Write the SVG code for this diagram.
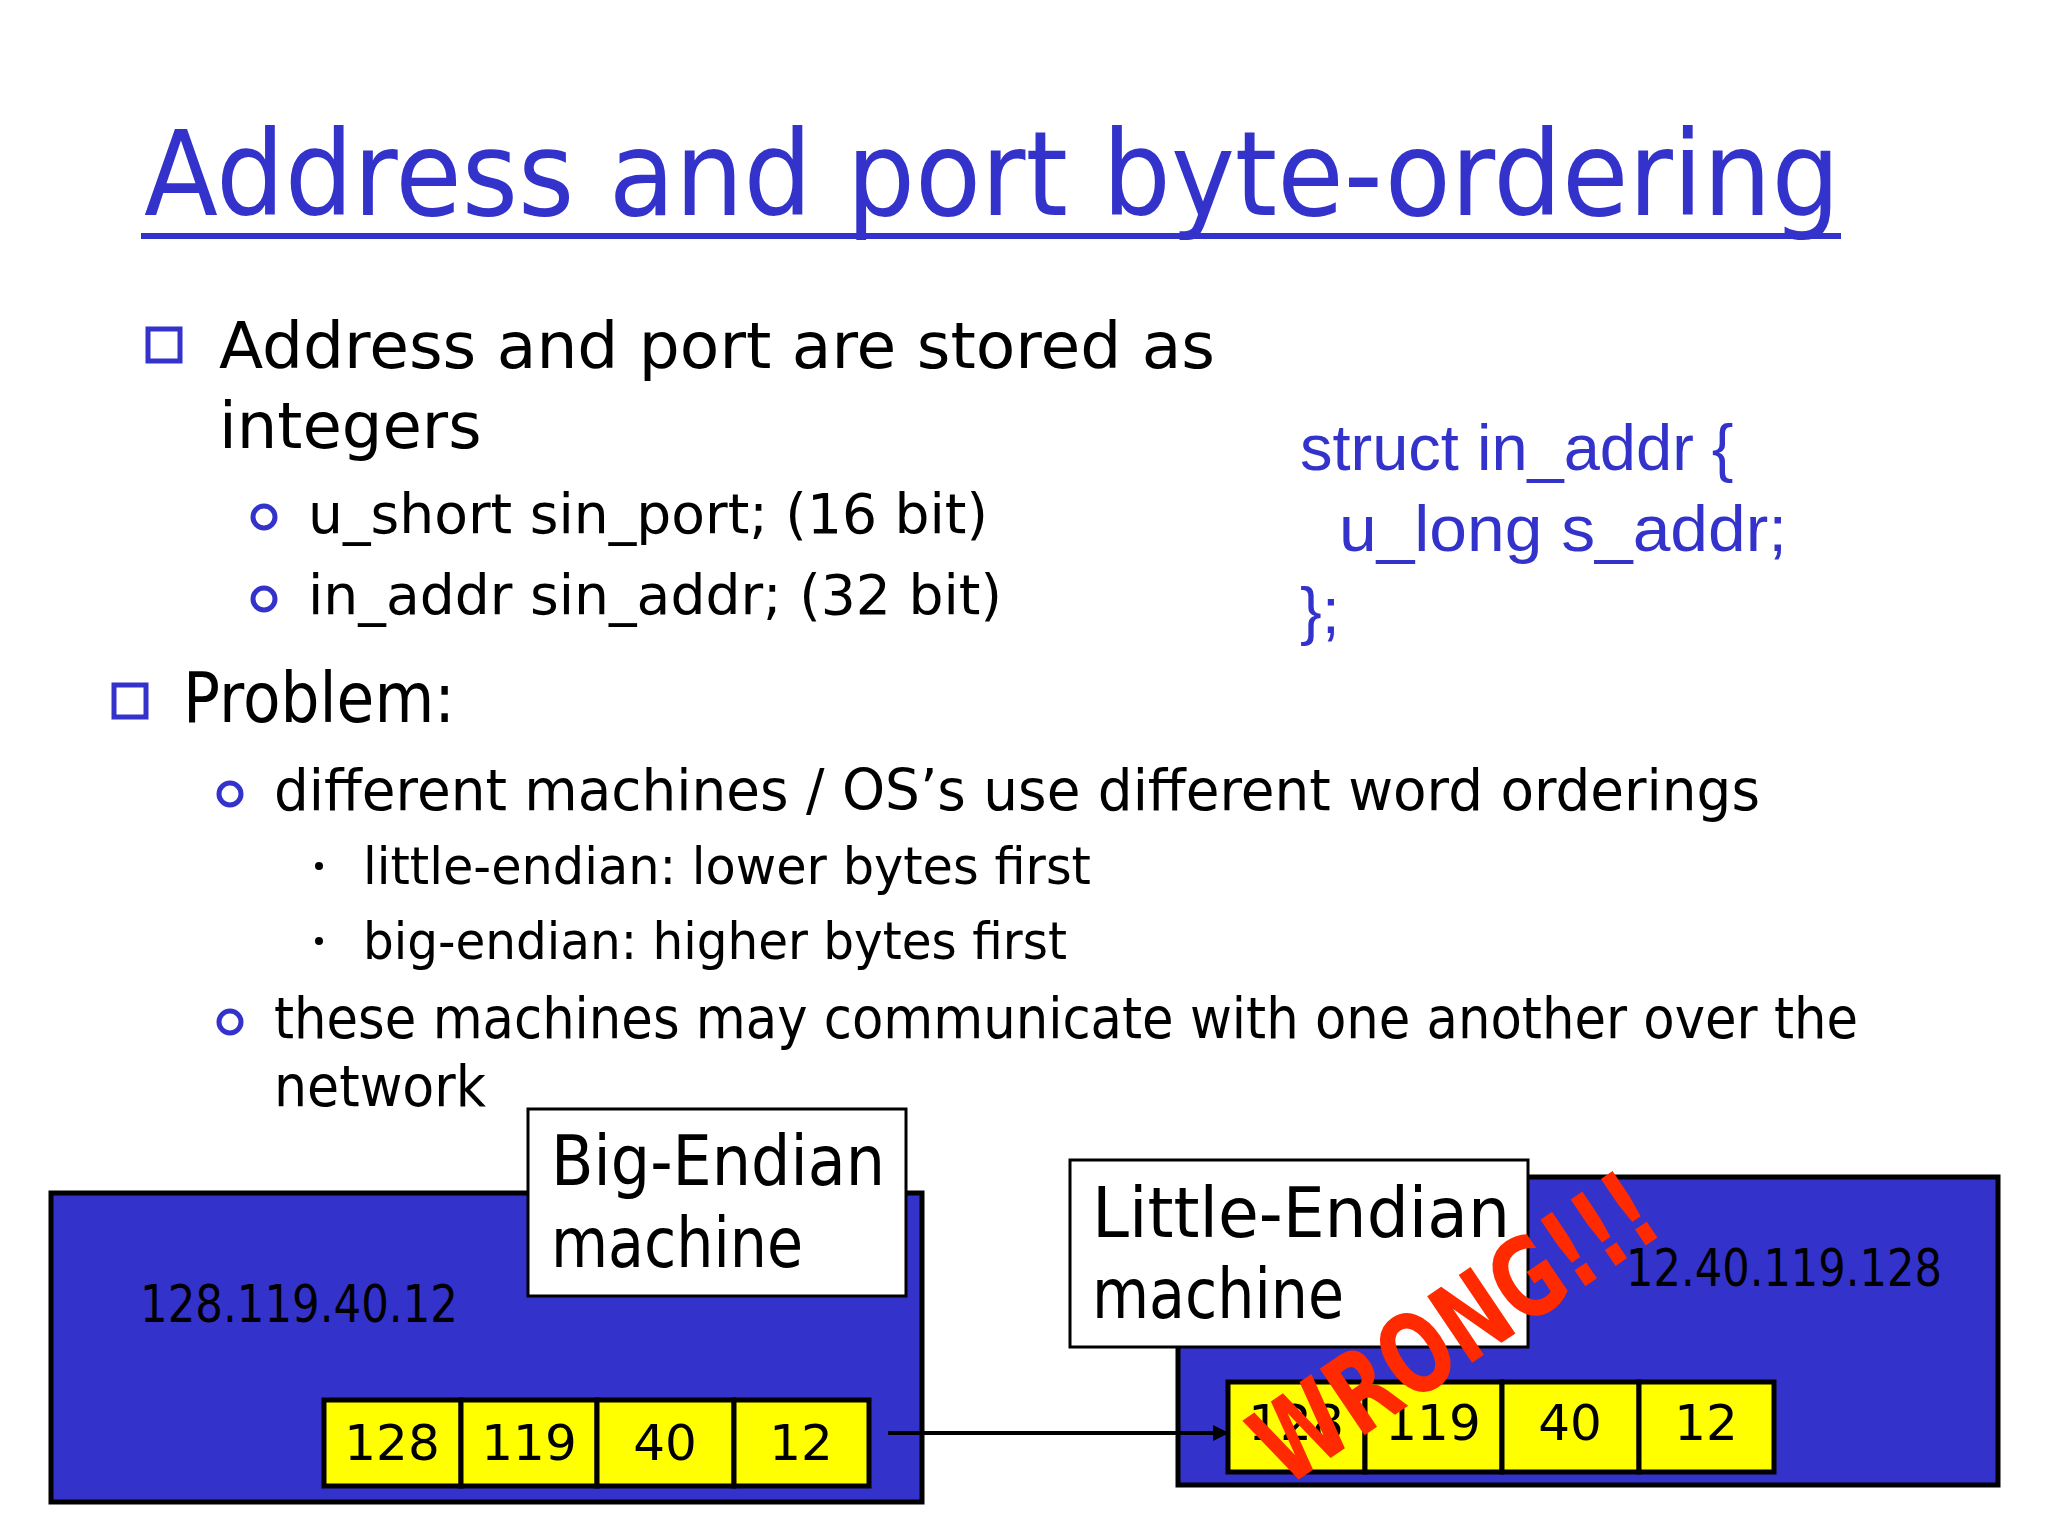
<svg xmlns="http://www.w3.org/2000/svg" width="2048" height="1536" viewBox="0 0 2048 1536">
<style>
.t{font-family:"DejaVu Sans","Liberation Sans",sans-serif;fill:#000}
.c{font-family:"Liberation Sans",Arial,sans-serif;fill:#3333cc;font-size:65px}
.cell{fill:#ffff00;stroke:#000;stroke-width:5}
.ct{font-family:"DejaVu Sans",sans-serif;font-size:50px;text-anchor:middle}
.blue{fill:#3333cc;stroke:#000;stroke-width:5}
.lbl{fill:#fff;stroke:#000;stroke-width:3}
</style>
<defs><marker id="ah" markerWidth="16" markerHeight="16" refX="15" refY="8" orient="auto" markerUnits="userSpaceOnUse" viewBox="0 0 16 16"><path d="M0,0L16,8L0,16z" fill="#000"/></marker></defs>
<rect width="2048" height="1536" fill="#fff"/>
<g id="title"><text x="144" y="215" class="t" font-size="118" fill="#3333cc" style="fill:#3333cc" textLength="1696" lengthAdjust="spacingAndGlyphs">Address and port byte-ordering</text>
<rect x="141" y="233" width="1700" height="6" fill="#3333cc"/></g>
<g id="bullets">
<rect x="148" y="329" width="32" height="32" fill="none" stroke="#3333cc" stroke-width="5"/>
<text x="219" y="368" class="t" font-size="64" textLength="996" lengthAdjust="spacingAndGlyphs">Address and port are stored as</text>
<text x="219" y="448" class="t" font-size="64">integers</text>
<circle cx="264" cy="517" r="11" fill="none" stroke="#3333cc" stroke-width="5"/>
<text x="308" y="533" class="t" font-size="55" textLength="680" lengthAdjust="spacingAndGlyphs">u_short sin_port; (16 bit)</text>
<circle cx="264" cy="599" r="11" fill="none" stroke="#3333cc" stroke-width="5"/>
<text x="308" y="614" class="t" font-size="55" textLength="694" lengthAdjust="spacingAndGlyphs">in_addr sin_addr; (32 bit)</text>
<rect x="114" y="685" width="32" height="32" fill="none" stroke="#3333cc" stroke-width="5"/>
<text x="183" y="722" class="t" font-size="70" textLength="272" lengthAdjust="spacingAndGlyphs">Problem:</text>
<circle cx="230" cy="794" r="11" fill="none" stroke="#3333cc" stroke-width="5"/>
<text x="274" y="810" class="t" font-size="57" textLength="1486" lengthAdjust="spacingAndGlyphs">different machines / OS’s use different word orderings</text>
<circle cx="319" cy="866" r="4" fill="#000"/>
<text x="363" y="884" class="t" font-size="52" textLength="728" lengthAdjust="spacingAndGlyphs">little-endian: lower bytes first</text>
<circle cx="319" cy="941" r="4" fill="#000"/>
<text x="363" y="959" class="t" font-size="52" textLength="704" lengthAdjust="spacingAndGlyphs">big-endian: higher bytes first</text>
<circle cx="230" cy="1022" r="11" fill="none" stroke="#3333cc" stroke-width="5"/>
<text x="274" y="1038" class="t" font-size="57" textLength="1584" lengthAdjust="spacingAndGlyphs">these machines may communicate with one another over the</text>
<text x="274" y="1106" class="t" font-size="57" textLength="212" lengthAdjust="spacingAndGlyphs">network</text>
</g>
<g id="struct">
<text x="1300" y="470" class="c">struct in_addr {</text>
<text x="1339" y="551" class="c" textLength="448" lengthAdjust="spacingAndGlyphs">u_long s_addr;</text>
<text x="1300" y="633" class="c">};</text>
</g>
<g id="left">
<rect x="51" y="1193" width="871" height="309" class="blue"/>
<text x="140" y="1322" class="t" font-size="52" textLength="318" lengthAdjust="spacingAndGlyphs">128.119.40.12</text>
<rect x="324" y="1400" width="137" height="86" class="cell"/><text x="392" y="1460" class="ct">128</text>
<rect x="461" y="1400" width="136" height="86" class="cell"/><text x="529" y="1460" class="ct">119</text>
<rect x="597" y="1400" width="137" height="86" class="cell"/><text x="665" y="1460" class="ct">40</text>
<rect x="734" y="1400" width="135" height="86" class="cell"/><text x="801" y="1460" class="ct">12</text>
</g>
<g id="bigLabel"><rect x="528" y="1109" width="378" height="187" class="lbl"/>
<text x="551" y="1185" class="t" font-size="70" textLength="334" lengthAdjust="spacingAndGlyphs">Big-Endian</text>
<text x="551" y="1267" class="t" font-size="70" textLength="252" lengthAdjust="spacingAndGlyphs">machine</text></g>
<g id="right">
<rect x="1178" y="1177" width="820" height="308" class="blue"/>
<text x="1626" y="1286" class="t" font-size="52" textLength="316" lengthAdjust="spacingAndGlyphs">12.40.119.128</text>
<rect x="1228" y="1382" width="137" height="90" class="cell"/><text x="1296" y="1440" class="ct">128</text>
<rect x="1365" y="1382" width="137" height="90" class="cell"/><text x="1433" y="1440" class="ct">119</text>
<rect x="1502" y="1382" width="137" height="90" class="cell"/><text x="1570" y="1440" class="ct">40</text>
<rect x="1639" y="1382" width="135" height="90" class="cell"/><text x="1706" y="1440" class="ct">12</text>
</g>
<g id="littleLabel"><rect x="1070" y="1160" width="458" height="187" class="lbl"/>
<text x="1092" y="1237" class="t" font-size="70" textLength="418" lengthAdjust="spacingAndGlyphs">Little-Endian</text>
<text x="1092" y="1318" class="t" font-size="70" textLength="252" lengthAdjust="spacingAndGlyphs">machine</text></g>
<g id="connectors"><line x1="888" y1="1433" x2="1228" y2="1433" stroke="#000" stroke-width="4" marker-end="url(#ah)"/></g>
<g id="wrong"><text x="0" y="0" transform="translate(1476,1360) rotate(-34)" text-anchor="middle" font-family="DejaVu Sans,sans-serif" font-weight="bold" font-size="110" fill="#ff2a00" textLength="460" lengthAdjust="spacingAndGlyphs">WRONG!!!</text></g>
</svg>
